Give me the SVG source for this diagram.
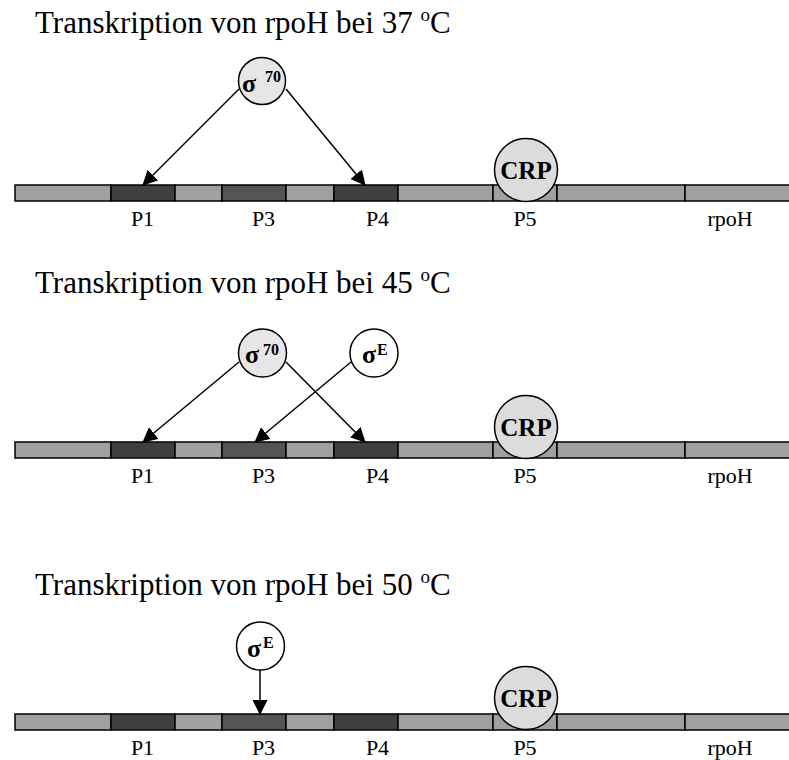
<svg xmlns="http://www.w3.org/2000/svg" width="789" height="760" viewBox="0 0 789 760">
<defs>
<marker id="ah" markerUnits="userSpaceOnUse" markerWidth="15" markerHeight="15" refX="14" refY="7.5" orient="auto" viewBox="0 0 15 15"><path d="M0,0 L15,7.5 L0,15 z" fill="#000"/></marker>
<style>
.title{font-family:"Liberation Serif","Times New Roman",serif;font-size:31px;fill:#000}
.lab{font-family:"Liberation Serif","Times New Roman",serif;font-size:22px;fill:#000;text-anchor:middle}
.light{fill:#a0a0a0;stroke:#000;stroke-width:1.5}
.dark{fill:#404040;stroke:#000;stroke-width:1.5}
.mid{fill:#555555;stroke:#000;stroke-width:1.5}
.s70{fill:#e6e6e6;stroke:#000;stroke-width:1.5}
.sE{fill:#fff;stroke:#000;stroke-width:1.5}
.crp{fill:#dcdcdc;stroke:#000;stroke-width:1.5}
.bold{font-family:"Liberation Serif","Times New Roman",serif;font-weight:bold;fill:#000}
.sig{font-size:26px}
.sup{font-size:16px}
.crpt{font-size:25px;text-anchor:middle}
.conn{stroke:#000;stroke-width:1.5;fill:none;marker-end:url(#ah)}
</style>
</defs>

<!-- Section 1 -->
<g id="title1"><text class="title" x="35" y="33">Transkription von rpoH bei 37 <tspan font-size="19" dy="-12">o</tspan><tspan dy="12">C</tspan></text></g>
<g id="bar1">
<rect class="light" x="15" y="185" width="96" height="16"/>
<rect class="dark" x="111" y="185" width="64" height="16"/>
<rect class="light" x="175" y="185" width="47" height="16"/>
<rect class="mid" x="222" y="185" width="64" height="16"/>
<rect class="light" x="286" y="185" width="48" height="16"/>
<rect class="dark" x="334" y="185" width="64" height="16"/>
<rect class="light" x="398" y="185" width="95" height="16"/>
<rect class="light" x="493" y="185" width="64" height="16"/>
<rect class="light" x="557" y="185" width="128" height="16"/>
<rect class="light" x="685" y="185" width="110" height="16"/>
</g>
<g id="labels1">
<text class="lab" x="142.5" y="226">P1</text>
<text class="lab" x="263.5" y="226">P3</text>
<text class="lab" x="377.5" y="226">P4</text>
<text class="lab" x="525" y="226">P5</text>
<text class="lab" x="730" y="226">rpoH</text>
</g>
<g id="crp1"><circle class="crp" cx="526" cy="170" r="31.5"/><text class="bold crpt" x="526" y="179">CRP</text></g>
<g id="sigma70_1"><circle class="s70" cx="262" cy="81" r="23.5"/><text class="bold sig" x="242" y="92">σ</text><text class="bold sup" x="265" y="82">70</text></g>

<!-- Section 2 -->
<g id="title2"><text class="title" x="35" y="293">Transkription von rpoH bei 45 <tspan font-size="19" dy="-12">o</tspan><tspan dy="12">C</tspan></text></g>
<g id="bar2">
<rect class="light" x="15" y="442" width="96" height="16"/>
<rect class="dark" x="111" y="442" width="64" height="16"/>
<rect class="light" x="175" y="442" width="47" height="16"/>
<rect class="mid" x="222" y="442" width="64" height="16"/>
<rect class="light" x="286" y="442" width="48" height="16"/>
<rect class="dark" x="334" y="442" width="64" height="16"/>
<rect class="light" x="398" y="442" width="95" height="16"/>
<rect class="light" x="493" y="442" width="64" height="16"/>
<rect class="light" x="557" y="442" width="128" height="16"/>
<rect class="light" x="685" y="442" width="110" height="16"/>
</g>
<g id="labels2">
<text class="lab" x="142.5" y="483">P1</text>
<text class="lab" x="263.5" y="483">P3</text>
<text class="lab" x="377.5" y="483">P4</text>
<text class="lab" x="525" y="483">P5</text>
<text class="lab" x="730" y="483">rpoH</text>
</g>
<g id="crp2"><circle class="crp" cx="526" cy="427" r="31.5"/><text class="bold crpt" x="526" y="436">CRP</text></g>
<g id="sigma70_2"><circle class="s70" cx="262.5" cy="353" r="24"/><text class="bold sig" x="245" y="363">σ</text><text class="bold sup" x="263" y="355">70</text></g>
<g id="sigmaE_2"><circle class="sE" cx="374" cy="353" r="24"/><text class="bold sig" x="362" y="363">σ</text><text class="bold sup" x="377" y="355">E</text></g>

<!-- Section 3 -->
<g id="title3"><text class="title" x="35" y="595">Transkription von rpoH bei 50 <tspan font-size="19" dy="-12">o</tspan><tspan dy="12">C</tspan></text></g>
<g id="bar3">
<rect class="light" x="15" y="714" width="96" height="16"/>
<rect class="dark" x="111" y="714" width="64" height="16"/>
<rect class="light" x="175" y="714" width="47" height="16"/>
<rect class="mid" x="222" y="714" width="64" height="16"/>
<rect class="light" x="286" y="714" width="48" height="16"/>
<rect class="dark" x="334" y="714" width="64" height="16"/>
<rect class="light" x="398" y="714" width="95" height="16"/>
<rect class="light" x="493" y="714" width="64" height="16"/>
<rect class="light" x="557" y="714" width="128" height="16"/>
<rect class="light" x="685" y="714" width="110" height="16"/>
</g>
<g id="labels3">
<text class="lab" x="142.5" y="755">P1</text>
<text class="lab" x="263.5" y="755">P3</text>
<text class="lab" x="377.5" y="755">P4</text>
<text class="lab" x="525" y="755">P5</text>
<text class="lab" x="730" y="755">rpoH</text>
</g>
<g id="crp3"><circle class="crp" cx="526" cy="698" r="31.5"/><text class="bold crpt" x="526" y="707">CRP</text></g>
<g id="sigmaE_3"><circle class="sE" cx="260.5" cy="646" r="24"/><text class="bold sig" x="247" y="657">σ</text><text class="bold sup" x="263" y="648">E</text></g>

<g id="connectors">
<line class="conn" x1="239" y1="89" x2="143" y2="185"/>
<line class="conn" x1="286" y1="89" x2="365" y2="185"/>
<line class="conn" x1="239" y1="362" x2="143" y2="442"/>
<line class="conn" x1="286" y1="362" x2="365" y2="442"/>
<line class="conn" x1="351" y1="362" x2="255" y2="442"/>
<line class="conn" x1="260" y1="670" x2="260" y2="714"/>
</g>
</svg>
